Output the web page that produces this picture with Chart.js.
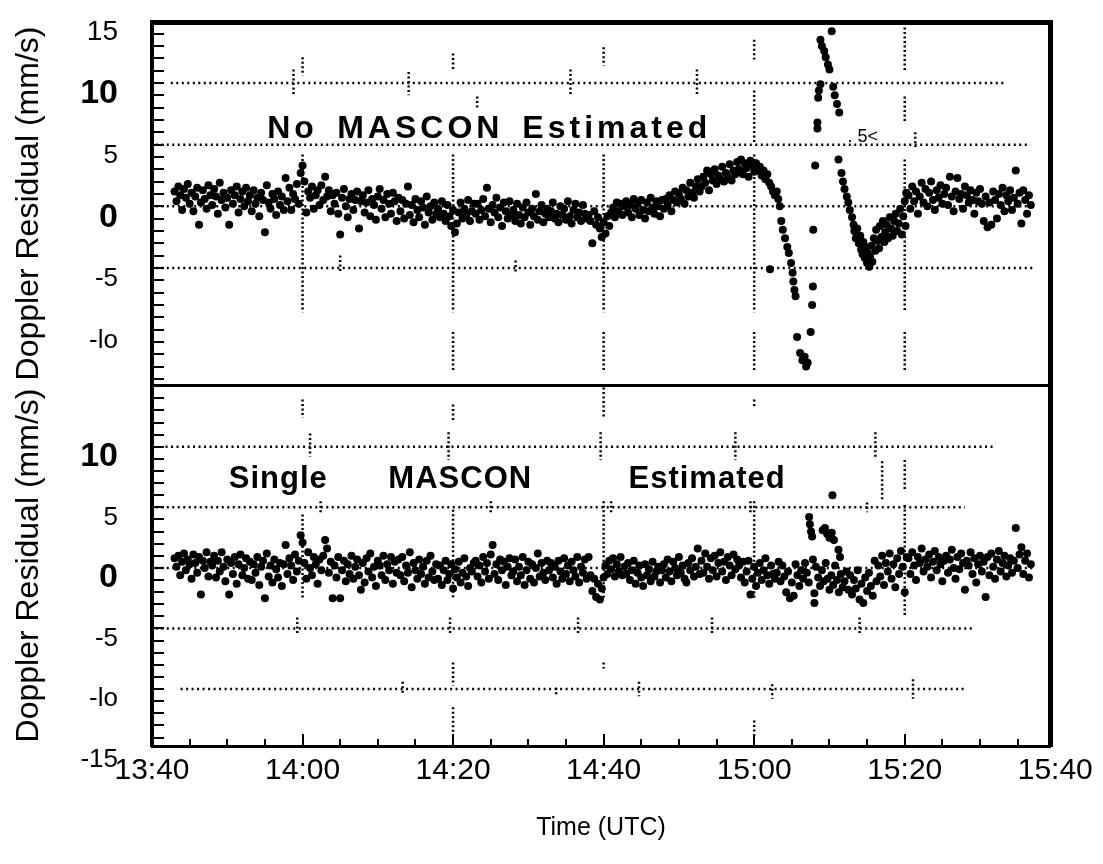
<!DOCTYPE html>
<html>
<head>
<meta charset="utf-8">
<title>Doppler residuals</title>
<script src="https://cdn.jsdelivr.net/npm/chart.js@4.4.1/dist/chart.umd.min.js"></script>
<style>
  body { margin: 0; background: #fff; }
  #wrap { position: relative; width: 1103px; height: 864px; }
  canvas { position: absolute; left: 0; }
  #bottom { top: 380px; }
  #top { top: 0; }
</style>
</head>
<body>
<div id="wrap">
  <canvas id="bottom" width="1103" height="484"></canvas>
  <canvas id="top" width="1103" height="386"></canvas>
</div>
<script>
// time is in minutes after 13:40 UTC
var timeStep = 0.25;
var calmStartA = 3;
var calmStartB = 100.5;

var timeTickValues = [0, 20, 40, 60, 80, 100, 120];
var timeTickLabels = ['13:40', '14:00', '14:20', '14:40', '15:00', '15:20', '15:40'];

var topTickValues = [-10, -5, 0, 5, 10, 15];
var topTickLabels = ['-lo', '-5', '0', '5', '10', '15'];
var botTickValues = [-15, -10, -5, 0, 5, 10];
var botTickLabels = ['-15', '-lo', '-5', '0', '5', '10'];

// No MASCON estimated: residuals 13:43 - 15:22:45
var topCalmA = [
  1.2, 0.4, 1.6, 0.9, -0.3, 1.4, 0.7, 1.8, 0.2, 1.1, -0.4, 0.8, 1.5, -1.5, 0.3, 1.3, 0.6, -0.2, 1.7, 0.9,
  0.1, 1.4, 0.8, -0.6, 1.9, 0.5, 1.1, -0.1, 0.7, -1.5, 1.3, 0.2, 0.9, 1.6, -0.5, 0.6, 1.2, 0.0, 1.5, 0.4,
  0.9, -0.4, 1.3, 0.2, 0.7, -0.8, 1.1, 0.5, -2.1, 1.7, 0.3, -0.2, 1.0, 0.6, -0.7, 1.2, 0.1, 0.8, -0.3, 2.3,
  0.4, 1.5, -0.3, 1.0, 0.6, 1.8, 0.2, 2.7, 3.3, 2.0, -0.5, 1.2, 0.7, 1.6, -0.2, 0.9, 1.3, 0.1, 1.7, 0.5,
  2.4, 0.8, 1.3, -0.4, 0.9, 0.2, 1.1, -0.6, -2.3, 0.7, 1.4, 0.0, -0.9, 0.6, 1.0, -0.3, 0.5, 1.2, -1.8, 0.4,
  0.9, -0.5, 0.3, 1.3, -0.8, 0.6, 0.1, -1.1, 0.8, 1.4, -0.2, 0.5, -0.9, 1.0, 0.2, -0.6, 1.1, 0.4, -1.2, 0.7,
  -0.4, 0.5, -1.0, 0.2, 1.6, -0.7, 0.1, -1.3, 0.6, -0.3, -0.9, 0.4, -0.1, -1.5, 0.8, -0.5, 0.0, -1.1, 0.3, -0.6,
  -0.2, -0.9, 0.4, -0.6, -1.2, 0.1, -0.8, -1.6, -0.3, -2.1, -1.4, -0.5, 0.3, -1.0, -0.2, -0.7, 0.5, -1.2, -0.4, 0.2,
  -0.6, 0.2, -1.1, -0.3, 0.6, -0.8, 1.5, -0.2, -1.3, 0.1, -0.5, 0.7, -0.9, -0.1, -1.6, 0.3, -0.4, -1.0, 0.4, -0.7,
  -0.3, -1.2, 0.2, -0.7, -1.4, -0.1, -0.9, 0.3, -0.5, -1.5, -0.2, -0.8, 1.0, -1.1, -0.4, 0.1, -1.3, -0.6, -0.2, -0.9,
  -0.4, 0.3, -1.0, -0.6, -1.3, 0.0, -0.7, -0.2, -1.1, 0.4, -0.8, -1.4, -0.3, 0.2, -0.9, -0.5, -1.2, 0.1, -0.6, -1.0,
  -0.7, -1.2, -3.0, -0.4, -1.5, -0.9, -1.8, -2.5, -1.3, -2.2, -0.8, -1.6, -0.5, -0.1, -0.9, 0.3, -0.4, 0.2, -0.7, 0.0,
  0.4, -0.5, 0.1, -0.9, 0.6, -0.2, 0.2, -0.7, 0.5, -0.3, -1.0, 0.3, -0.4, 0.7, -0.1, -0.6, 0.4, 0.0, -0.8, 0.5,
  -0.2, 0.6, 0.1, 0.9, -0.4, 0.5, 1.2, 0.3, 1.0, 0.6, 1.5, 0.2, 1.3, 0.8, 1.9, 1.1, 0.7, 1.6, 2.2, 1.2,
  1.6, 2.4, 1.9, 2.9, 1.3, 2.6, 2.1, 3.0, 1.8, 2.5, 2.2, 3.2, 2.0, 2.7, 2.4, 3.4, 2.1, 2.9, 2.6, 3.6,
  3.0, 3.8, 2.6, 3.5, 3.1, 2.4, 3.7, 3.3, 2.8, 3.5, 2.9, 3.2, 2.5, 2.9, 2.2, 2.6, 1.9, 1.6, 1.2, 0.9
];
var topEvent = [
  [82.1, -5.1],
  [83.0, 1.2], [83.2, 0.6], [83.4, 0.0], [83.6, -1.2], [83.8, -1.9], [84.1, -2.6], [84.4, -3.3], [84.6, -3.8],
  [84.9, -4.6], [85.1, -5.4], [85.2, -6.1], [85.35, -6.8], [85.5, -7.3], [85.7, -10.6], [86.1, -11.9],
  [86.4, -12.5], [86.7, -12.2], [86.9, -13.0], [87.1, -12.7],
  [87.5, -10.2], [87.7, -8.0], [87.8, -6.5], [87.85, -1.9], [88.1, 3.3], [88.4, 6.3], [88.4, 6.8], [88.5, 8.8],
  [88.6, 9.4], [88.8, 9.9], [88.8, 13.5], [89.0, 13.0], [89.3, 12.6], [89.5, 12.1], [89.8, 11.5], [90.0, 11.1],
  [90.3, 14.2], [90.5, 9.7], [90.7, 9.0], [91.0, 8.3], [91.3, 7.6], [91.2, 3.8], [91.6, 2.7], [91.8, 2.0],
  [92.0, 1.4], [92.3, 0.8], [92.5, 0.3], [92.7, -0.3], [93.0, -0.9], [93.2, -1.5],
  [93.3, -2.0], [93.5, -2.6], [93.7, -1.8], [93.9, -3.0], [94.1, -2.4], [94.2, -3.5], [94.4, -3.9], [94.5, -2.9],
  [94.7, -4.2], [94.8, -3.3], [95.0, -4.6], [95.1, -3.8], [95.3, -4.9], [95.4, -4.1], [95.6, -3.2], [95.7, -4.5],
  [95.9, -2.6], [96.1, -3.6], [96.2, -1.9], [96.4, -2.8], [96.6, -3.4], [96.7, -1.6], [96.9, -2.5], [97.1, -1.2],
  [97.3, -2.9], [97.4, -2.1], [97.6, -1.5], [97.8, -2.6], [98.0, -0.9], [98.2, -1.8], [98.4, -2.4], [98.6, -1.2],
  [98.8, -0.6], [99.0, -2.0], [99.2, -1.4], [99.4, -0.2], [99.6, -2.3], [99.8, -0.8], [100.0, 0.4], [100.1, -1.6],
  [100.2, 1.1]
];
var topCalmB = [
  0.9, -0.2, 1.6, 0.4, 1.2, -0.6, 0.8, 1.9, 0.3, 1.4, 0.0, 1.1, 2.0, 0.5, -0.3, 1.3, 0.7, 1.7, 0.2, 1.0,
  1.5, 0.1, 2.4, 0.8, -0.4, 1.2, 2.3, 0.6, 1.0, -0.2, 1.6, 0.9, 0.3, 1.3, 0.5, -0.6, 1.1, 0.4, 1.4, 0.2,
  -1.2, 0.8, -1.7, 0.3, -1.5, 1.2, 0.5, -1.0, 1.0, 0.1, 1.5, -0.4, 0.9, 0.4, 1.3, -0.3, 0.7, 2.9, 0.2, 1.1,
  -1.4, 1.3, 0.5, -0.6, 0.9, 0.1
];

// Single MASCON estimated
var botCalmA = [
  0.8, 0.1, 1.0, -0.6, 0.5, 1.2, -0.2, 0.7, 0.3, -0.9, 1.1, 0.4, -0.4, 0.9, -2.2, 0.6, 0.0, 1.3, -0.7, 0.5,
  0.2, 1.0, -0.8, 0.6, -0.3, 1.3, 0.1, -1.1, 0.7, -2.2, 0.4, -0.5, 0.9, -1.3, 0.3, 1.1, -0.6, 0.0, 0.8, -0.9,
  0.5, -1.0, 0.3, -0.4, 0.9, -1.4, 0.1, 0.6, -2.5, 1.2, -0.7, 0.2, -1.2, 0.7, -0.1, -0.8, 0.4, -1.5, 0.3, 1.9,
  -0.5, 0.8, 0.2, -1.0, 1.1, -0.3, 0.6, 2.7, 2.1, 0.4, -0.9, 1.3, 0.0, -0.6, 0.9, 0.3, -1.3, 0.7, -0.2, 1.0,
  2.3, 1.6, -0.4, 0.5, -2.5, 0.2, -0.8, 0.9, -2.5, -0.2, 0.6, -1.1, 0.3, -0.5, 1.0, -0.9, 0.1, 0.7, -0.6, -1.8,
  0.4, -1.2, 0.8, -0.3, 1.2, -0.8, 0.1, -1.5, 0.6, 0.2, -0.6, 1.0, -1.0, 0.3, -0.2, 0.9, -1.3, 0.5, -0.4, 0.7,
  -0.6, 0.9, -1.1, 0.2, -0.4, 1.3, -1.6, 0.4, -0.2, -0.9, 0.7, -0.5, 0.1, -1.3, 0.6, -0.8, 1.0, -0.3, -1.0, 0.3,
  -0.9, 0.2, -1.4, -0.2, 0.6, -1.0, -0.5, 0.3, -1.7, -0.1, -0.8, 0.5, -1.2, -0.4, 0.8, -0.7, -1.5, 0.0, -0.3, 0.4,
  0.6, -0.7, 0.2, -1.2, 0.9, -0.3, 0.4, -0.9, 1.1, 1.9, -0.5, 0.3, -1.0, 0.7, -0.2, 0.5, -1.4, 0.1, 0.8, -0.6,
  -0.3, 0.7, -1.1, 0.1, -0.6, 0.9, -1.4, -0.2, 0.5, -0.9, 0.3, -1.2, 0.0, 1.2, -0.7, 0.4, -0.4, -1.0, 0.6, -0.2,
  0.4, -0.8, 0.1, -1.3, 0.6, -0.3, -0.9, 0.8, -0.5, 0.2, -1.1, 0.5, -0.2, -0.7, 0.9, -1.2, 0.1, -0.4, 0.7, -0.9,
  0.9, -0.6, -1.9, -0.9, -2.4, -1.3, -2.6, -1.7, -0.8, 0.2, -0.5, 0.6, -0.1, 0.8, -0.7, 0.3, -0.3, 0.9, -0.6, 0.1,
  -0.5, 0.4, -1.0, -0.2, 0.6, -1.3, -0.4, 0.2, -0.8, -1.5, 0.3, -0.6, -0.1, -1.1, 0.5, -0.7, -0.3, 0.1, -1.2, -0.2,
  0.3, -0.8, 0.7, -0.3, -1.1, 0.5, 0.0, -0.6, 0.9, -0.4, 0.2, -0.9, -1.2, 0.4, -0.2, 0.8, -0.7, 0.1, 1.6, -0.5,
  0.6, -0.4, 1.2, 0.1, -0.9, 0.8, -0.2, 1.0, -0.7, 0.4, 1.3, -0.3, 0.5, -1.0, 0.9, 0.2, -0.6, 1.1, -0.1, 0.7,
  0.2, -0.8, 0.5, -1.2, -0.3, 0.6, -2.2, -0.9, 0.1, -1.5, -0.4, 0.4, -1.0, -0.2, 0.8, -0.6, -1.3, 0.2, -0.5, -0.9
];
var botEvent = [
  [83.0, -0.4], [83.25, 0.5], [83.5, -1.1], [83.75, 0.2], [84.0, -0.7], [84.25, -2.0], [84.5, -0.3], [84.75, -2.5],
  [85.0, -1.2], [85.25, -2.3], [85.5, 0.3], [85.75, -0.6], [86.0, -1.5], [86.25, -0.2], [86.5, -0.9], [86.75, 0.4],
  [87.0, -0.4], [87.25, -1.2],
  [87.3, 4.2], [87.4, 3.6], [87.55, 3.0], [87.7, 2.6], [89.1, 3.1], [89.4, 3.3], [89.7, 2.8], [90.0, 2.5],
  [90.3, 2.9], [90.6, 2.3], [91.2, 1.5], [91.4, 0.9], [90.4, 6.0],
  [88.0, -2.1], [88.0, -2.9], [87.8, 0.7], [88.2, 0.1], [88.5, -0.8], [88.75, -1.5], [89.0, -0.2], [89.25, -1.1],
  [89.5, 0.4], [89.75, -0.9], [90.0, -1.8], [90.25, -0.6], [90.5, -1.4], [90.75, 0.2], [91.0, -1.0], [91.25, -2.0],
  [91.5, -0.5], [91.75, -1.6], [92.0, -1.1], [92.25, -0.3],
  [92.5, -1.8], [92.75, -0.6], [93.0, -2.2], [93.25, -1.0], [93.5, -1.7], [93.75, -0.2], [94.0, -2.6], [94.25, -1.3],
  [94.5, -2.9], [94.75, -0.8], [95.0, -1.9], [95.25, -0.4], [95.5, -1.5], [95.75, -2.3],
  [96.0, 0.6], [96.25, -1.1], [96.5, 0.2], [96.75, -0.7], [97.0, 1.0], [97.25, -1.4], [97.5, 0.4], [97.75, -0.3],
  [98.0, 1.2], [98.25, -0.9], [98.5, 0.3], [98.75, -1.6], [99.0, 0.8], [99.25, -0.5], [99.5, 1.4], [99.75, 0.1],
  [100.0, -2.0], [100.25, 0.9]
];
var botCalmB = [
  0.8, -0.5, 1.3, 0.2, -1.0, 0.9, 0.4, 1.6, -0.3, 0.7, 0.1, 1.1, -0.8, 0.5, 1.4, -0.2, 0.9, 0.3, -1.1, 0.6,
  1.0, -0.4, 0.7, 1.5, 0.0, -0.9, 0.9, -0.1, 1.2, 0.4, -1.8, 0.6, 0.2, 1.3, -0.5, 0.8, -1.2, 0.3, 1.0, -0.3,
  0.5, -2.4, 0.9, -0.6, 1.2, 0.1, -0.9, 0.7, 1.4, -0.3, 0.4, 1.0, -0.7, 0.2, 0.8, -0.4, 0.6, 3.3, 0.0, 1.1,
  1.7, -0.5, 0.6, 1.2, -0.8, 0.3
];

// dotted reference lines: level, start time, end time
var topLevels = [10, 5, 0, -5];
var topLevelFrom = [2.5, 0.5, 0.5, 0.5];
var topLevelTo = [113.3, 116.7, 117, 117];
var botLevels = [10, 5, 0, -5, -10];
var botLevelFrom = [1.8, 0.5, 0.5, 0.5, 3.8];
var botLevelTo = [112, 108, 117.3, 109, 108];

// dotted vertical pieces: time, from, to
var topSegments = [
  [20, 12.1, 10.6], [20, 4.2, -8.6],
  [40, 12.4, 11.1], [40, 4.2, -8.6], [40, -10.2, -13.3],
  [60, 12.9, 11.4], [60, 4.2, -8.6], [60, -10.2, -13.3],
  [80, 13.5, 11.9], [80, 9.4, 5.1], [80, 4.2, -8.6], [80, -10.2, -13.3],
  [100, 14.5, 10.9], [100, 8.9, 6.9], [100, 3.8, -8.6], [100, -10.2, -13.3],
  [18.8, 11.1, 9.0], [34.1, 10.9, 9.0], [43.2, 8.9, 8.0], [55.6, 11.1, 9.0], [72.4, 11.1, 8.9],
  [25.0, -4.0, -5.4], [48.3, -4.4, -5.4], [101.4, 6.0, 4.8]
];
var botSegments = [
  [20, 13.9, 12.4], [20, 4.4, -2.6],
  [40, 13.5, 12.0], [40, 4.8, -2.6], [40, -7.8, -9.7], [40, -11.5, -13.6],
  [60, 14.9, 12.4], [60, 5.5, -2.6], [60, -7.8, -8.3],
  [80, 13.9, 13.3], [80, 5.5, -2.6], [80, -12.6, -14.0],
  [100, 8.9, 6.3], [100, 5.2, -3.9], [97.0, 8.8, 5.5], [96.1, 11.2, 9.1],
  [21.0, 11.1, 9.2], [39.4, 11.2, 8.9], [59.6, 11.2, 8.9], [77.5, 11.2, 8.9],
  [22.4, 5.5, 4.6], [45.0, 5.5, 4.6], [61.0, 5.5, 4.6], [79.5, 5.5, 4.6], [95.0, 5.4, 4.6],
  [19.3, -4.1, -5.4], [39.6, -4.1, -5.4], [56.6, -4.1, -5.4], [74.4, -4.1, -5.4], [94.0, -4.1, -5.4],
  [33.3, -9.4, -10.5], [53.7, -9.9, -10.6], [64.7, -9.4, -10.6], [82.4, -9.6, -10.8], [101.1, -9.2, -10.8]
];

var narrow = "'Liberation Sans Narrow', 'Arial Narrow', 'Liberation Sans', Arial, sans-serif";
var sans = "'Liberation Sans', Arial, Helvetica, sans-serif";

function sampled(start, vals) {
  return vals.map(function (v, i) { return { x: start + i * timeStep, y: v }; });
}
function pairs(list) {
  return list.map(function (p) { return { x: p[0], y: p[1] }; });
}
function levelLines(levels, from, to) {
  var out = [];
  levels.forEach(function (lv, i) {
    out.push({ x: from[i], y: lv }, { x: to[i], y: lv }, { x: to[i], y: null });
  });
  return out;
}
function segmentLines(segs) {
  var out = [];
  segs.forEach(function (s) {
    out.push({ x: s[0], y: s[1] }, { x: s[0], y: s[2] }, { x: s[0], y: null });
  });
  return out;
}
function tickFont(value) {
  var strong = value === 10 || value === 0;
  return { family: narrow, size: value === 15 ? 28 : (strong ? 34 : 26), weight: strong ? 'bold' : 'normal' };
}

// inner tick marks and panel captions
function decor(notes, timeTicks) {
  return {
    id: 'decor',
    afterDatasetsDraw: function (chart) {
      var ctx = chart.ctx, a = chart.chartArea, x = chart.scales.x, y = chart.scales.y;
      ctx.save();
      ctx.strokeStyle = '#000';
      ctx.lineWidth = 2;
      for (var v = Math.ceil(y.min); v <= Math.floor(y.max); v++) {
        var py = Math.round(y.getPixelForValue(v));
        ctx.beginPath(); ctx.moveTo(a.left, py); ctx.lineTo(a.left + 12, py); ctx.stroke();
      }
      if (timeTicks) {
        for (var t = 5; t < x.max; t += 5) {
          var px = Math.round(x.getPixelForValue(t));
          ctx.beginPath(); ctx.moveTo(px, a.bottom); ctx.lineTo(px, a.bottom - (t % 20 === 0 ? 12 : 7)); ctx.stroke();
        }
      }
      ctx.fillStyle = '#000';
      ctx.textBaseline = 'alphabetic';
      notes.forEach(function (n) {
        ctx.font = n.font;
        ctx.letterSpacing = n.spacing;
        ctx.fillText(n.text, x.getPixelForValue(n.t), y.getPixelForValue(n.v));
      });
      ctx.letterSpacing = '0px';
      ctx.restore();
    }
  };
}

function makePanel(id, p) {
  return new Chart(document.getElementById(id), {
    type: 'scatter',
    data: {
      datasets: [
        { data: levelLines(p.levels, p.levelFrom, p.levelTo), showLine: true, borderColor: '#000', borderWidth: 2.5, borderDash: [2, 3.5], pointRadius: 0 },
        { data: segmentLines(p.segments), showLine: true, borderColor: '#000', borderWidth: 2.5, borderDash: [2, 2.5], pointRadius: 0 },
        {
          data: sampled(calmStartA, p.calmA).concat(pairs(p.event), sampled(calmStartB, p.calmB)),
          pointRadius: 4, pointBackgroundColor: '#000', pointBorderWidth: 0
        }
      ]
    },
    options: {
      responsive: false,
      animation: false,
      events: [],
      layout: { padding: 0, autoPadding: false },
      plugins: { legend: { display: false }, tooltip: { enabled: false } },
      scales: {
        x: {
          type: 'linear', position: 'bottom', min: 0, max: 119.3,
          grid: { display: false, drawTicks: false },
          border: { width: 3, color: '#000' },
          afterBuildTicks: function (s) { s.ticks = timeTickValues.map(function (v) { return { value: v }; }); },
          ticks: {
            display: p.showTime, autoSkip: false, maxRotation: 0, minRotation: 0, padding: 7, color: '#000',
            font: { family: narrow, size: 30 },
            callback: function (v) { var i = timeTickValues.indexOf(v); return i < 0 ? '' : timeTickLabels[i]; }
          },
          title: { display: p.showTime, text: 'Time (UTC)', color: '#000', font: { family: narrow, size: 25 }, padding: { top: 0, bottom: 21 } },
          afterFit: function (s) { s.height = p.xHeight; s.paddingLeft = 0; s.paddingRight = 0; }
        },
        x2: {
          type: 'linear', position: 'top', min: 0, max: 119.3,
          grid: { display: false, drawTicks: false }, ticks: { display: false },
          border: { width: p.topBorder, color: '#000' },
          afterFit: function (s) { s.height = p.topGap; s.paddingLeft = 0; s.paddingRight = 0; }
        },
        y: {
          type: 'linear', position: 'left', min: p.min, max: p.max,
          grid: { display: false, drawTicks: false },
          border: { width: 4, color: '#000' },
          afterBuildTicks: function (s) { s.ticks = p.tickValues.map(function (v) { return { value: v }; }); },
          ticks: {
            padding: 34, labelOffset: p.labelOffset, color: '#000',
            font: function (c) { return tickFont(c.tick ? c.tick.value : 5); },
            callback: function (v) { var i = p.tickValues.indexOf(v); return i < 0 ? '' : p.tickLabels[i]; }
          },
          title: { display: true, text: 'Doppler Residual (mm/s)', color: '#000', font: { family: sans, size: 32 }, padding: { top: 10, bottom: 0 } },
          afterFit: function (s) { s.width = 152; s.paddingTop = 0; s.paddingBottom = 0; }
        },
        y2: {
          type: 'linear', position: 'right', min: p.min, max: p.max,
          grid: { display: false, drawTicks: false }, ticks: { display: false },
          border: { width: 5, color: '#000' },
          afterFit: function (s) { s.width = 53; s.paddingTop = 0; s.paddingBottom = 0; }
        }
      }
    },
    plugins: [decor(p.notes, p.showTime)]
  });
}

makePanel('top', {
  min: -14.5, max: 14.95, topGap: 22, topBorder: 5, xHeight: 1, showTime: false, labelOffset: 11,
  tickValues: topTickValues, tickLabels: topTickLabels,
  calmA: topCalmA, event: topEvent, calmB: topCalmB,
  levels: topLevels, levelFrom: topLevelFrom, levelTo: topLevelTo, segments: topSegments,
  notes: [
    { text: 'No', t: 15.3, v: 5.54, font: 'bold 32px ' + sans, spacing: '4px' },
    { text: 'MASCON', t: 24.6, v: 5.54, font: 'bold 32px ' + sans, spacing: '4px' },
    { text: 'Estimated', t: 49.2, v: 5.54, font: 'bold 32px ' + sans, spacing: '4px' },
    { text: '. 5<', t: 92.4, v: 5.2, font: '18px ' + narrow, spacing: '0px' }
  ]
});

makePanel('bottom', {
  min: -14.7, max: 15.1, topGap: 5, topBorder: 3, xHeight: 118, showTime: true, labelOffset: 10,
  tickValues: botTickValues, tickLabels: botTickLabels,
  calmA: botCalmA, event: botEvent, calmB: botCalmB,
  levels: botLevels, levelFrom: botLevelFrom, levelTo: botLevelTo, segments: botSegments,
  notes: [
    { text: 'Single', t: 10.2, v: 6.6, font: 'bold 31px ' + sans, spacing: '1px' },
    { text: 'MASCON', t: 31.4, v: 6.6, font: 'bold 31px ' + sans, spacing: '1px' },
    { text: 'Estimated', t: 63.3, v: 6.6, font: 'bold 31px ' + sans, spacing: '1px' }
  ]
});
</script>
</body>
</html>
